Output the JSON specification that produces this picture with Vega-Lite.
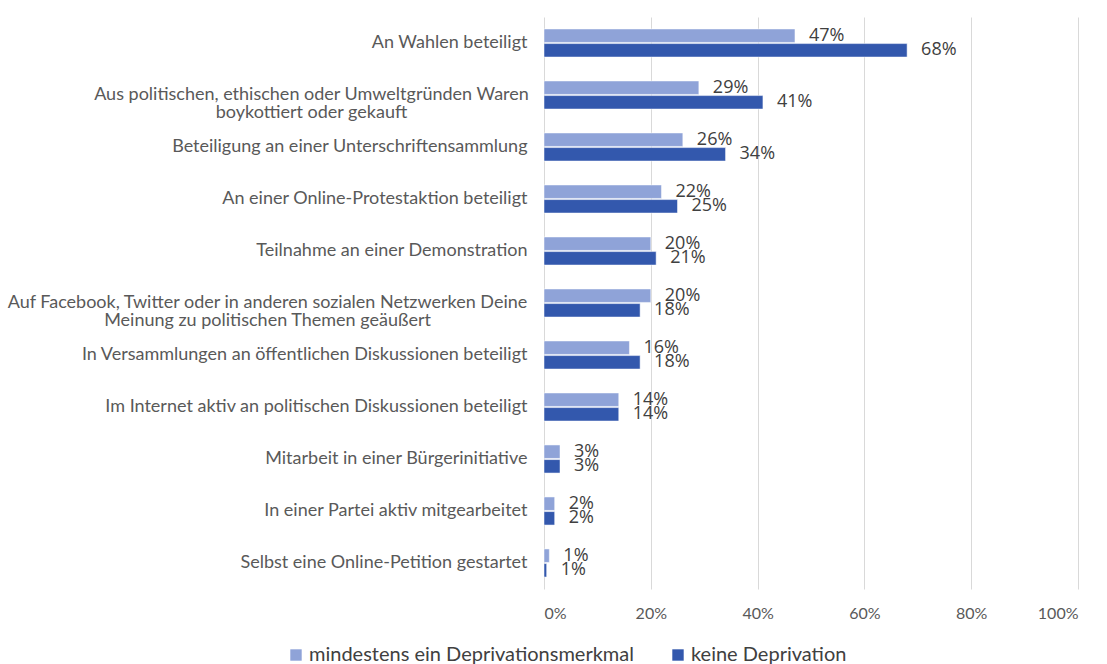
{
  "$schema": "https://vega.github.io/schema/vega-lite/v6.json",
  "width": 534,
  "height": 572,
  "autosize": "none",
  "padding": {"left": 544, "top": 17, "right": 29, "bottom": 75},
  "background": "white",
  "config": {
    "view": {"stroke": null},
    "font": "Lato"
  },
  "data": {
    "values": [
      {"aktivitaet": "An Wahlen beteiligt", "gruppe": "mindestens ein Deprivationsmerkmal", "anteil": 0.47},
      {"aktivitaet": "An Wahlen beteiligt", "gruppe": "keine Deprivation", "anteil": 0.68},
      {"aktivitaet": "Aus politischen, ethischen oder Umweltgründen Waren|boykottiert oder gekauft", "gruppe": "mindestens ein Deprivationsmerkmal", "anteil": 0.29},
      {"aktivitaet": "Aus politischen, ethischen oder Umweltgründen Waren|boykottiert oder gekauft", "gruppe": "keine Deprivation", "anteil": 0.41},
      {"aktivitaet": "Beteiligung an einer Unterschriftensammlung", "gruppe": "mindestens ein Deprivationsmerkmal", "anteil": 0.26},
      {"aktivitaet": "Beteiligung an einer Unterschriftensammlung", "gruppe": "keine Deprivation", "anteil": 0.34},
      {"aktivitaet": "An einer Online-Protestaktion beteiligt", "gruppe": "mindestens ein Deprivationsmerkmal", "anteil": 0.22},
      {"aktivitaet": "An einer Online-Protestaktion beteiligt", "gruppe": "keine Deprivation", "anteil": 0.25},
      {"aktivitaet": "Teilnahme an einer Demonstration", "gruppe": "mindestens ein Deprivationsmerkmal", "anteil": 0.20},
      {"aktivitaet": "Teilnahme an einer Demonstration", "gruppe": "keine Deprivation", "anteil": 0.21},
      {"aktivitaet": "Auf Facebook, Twitter oder in anderen sozialen Netzwerken Deine|Meinung zu politischen Themen geäußert", "gruppe": "mindestens ein Deprivationsmerkmal", "anteil": 0.20},
      {"aktivitaet": "Auf Facebook, Twitter oder in anderen sozialen Netzwerken Deine|Meinung zu politischen Themen geäußert", "gruppe": "keine Deprivation", "anteil": 0.18},
      {"aktivitaet": "In Versammlungen an öffentlichen Diskussionen beteiligt", "gruppe": "mindestens ein Deprivationsmerkmal", "anteil": 0.16},
      {"aktivitaet": "In Versammlungen an öffentlichen Diskussionen beteiligt", "gruppe": "keine Deprivation", "anteil": 0.18},
      {"aktivitaet": "Im Internet aktiv an politischen Diskussionen beteiligt", "gruppe": "mindestens ein Deprivationsmerkmal", "anteil": 0.14},
      {"aktivitaet": "Im Internet aktiv an politischen Diskussionen beteiligt", "gruppe": "keine Deprivation", "anteil": 0.14},
      {"aktivitaet": "Mitarbeit in einer Bürgerinitiative", "gruppe": "mindestens ein Deprivationsmerkmal", "anteil": 0.03},
      {"aktivitaet": "Mitarbeit in einer Bürgerinitiative", "gruppe": "keine Deprivation", "anteil": 0.03},
      {"aktivitaet": "In einer Partei aktiv mitgearbeitet", "gruppe": "mindestens ein Deprivationsmerkmal", "anteil": 0.02},
      {"aktivitaet": "In einer Partei aktiv mitgearbeitet", "gruppe": "keine Deprivation", "anteil": 0.02},
      {"aktivitaet": "Selbst eine Online-Petition gestartet", "gruppe": "mindestens ein Deprivationsmerkmal", "anteil": 0.01},
      {"aktivitaet": "Selbst eine Online-Petition gestartet", "gruppe": "keine Deprivation", "anteil": 0.005}
    ]
  },
  "encoding": {
    "y": {
      "field": "aktivitaet",
      "type": "nominal",
      "sort": null,
      "scale": {"paddingInner": 0.46, "paddingOuter": 0.23},
      "axis": {
        "title": null,
        "domain": false,
        "ticks": false,
        "labelExpr": "split(datum.label, '|')",
        "labelFontSize": 18,
        "labelColor": "#595959",
        "labelAlign": {"condition": {"test": "indexof(datum.label, '|') >= 0", "value": "center"}, "value": "right"},
        "labelPadding": {"condition": [{"test": "indexof(datum.label, 'Facebook') >= 0", "value": 277}, {"test": "indexof(datum.label, 'Waren') >= 0", "value": 233}], "value": 17},
        "labelLineHeight": 18,
        "labelLimit": 600
      }
    },
    "yOffset": {
      "field": "gruppe",
      "type": "nominal",
      "sort": ["mindestens ein Deprivationsmerkmal", "keine Deprivation"],
      "scale": {"paddingInner": 0.08}
    },
    "x": {
      "field": "anteil",
      "type": "quantitative",
      "scale": {"domain": [0, 1]},
      "axis": {
        "title": null,
        "format": ".0%",
        "values": [0, 0.2, 0.4, 0.6, 0.8, 1],
        "domain": false,
        "ticks": false,
        "labelFontSize": 16,
        "labelColor": "#595959",
        "labelPadding": 16,
        "gridColor": "#d9d9d9",
        "gridWidth": 1
      }
    }
  },
  "layer": [
    {
      "mark": {"type": "bar", "stroke": "white", "strokeWidth": 0.5},
      "encoding": {
        "color": {
          "field": "gruppe",
          "type": "nominal",
          "sort": ["mindestens ein Deprivationsmerkmal", "keine Deprivation"],
          "scale": {"domain": ["mindestens ein Deprivationsmerkmal", "keine Deprivation"], "range": ["#8fa3d8", "#3358ad"]},
          "legend": {
            "title": null,
            "orient": "none",
            "direction": "horizontal",
            "legendX": -258,
            "legendY": 628,
            "symbolType": "square",
            "symbolSize": 130,
            "symbolStrokeWidth": 0,
            "labelFontSize": 20,
            "labelColor": "#404040",
            "labelLimit": 500,
            "columnPadding": 34,
            "labelOffset": 3
          }
        }
      }
    },
    {
      "mark": {"type": "text", "align": "left", "baseline": "middle", "dx": 14, "fontSize": 18, "font": "Open Sans", "color": "#404040"},
      "encoding": {
        "text": {"field": "anteil", "type": "quantitative", "format": ".0%"}
      }
    }
  ]
}
